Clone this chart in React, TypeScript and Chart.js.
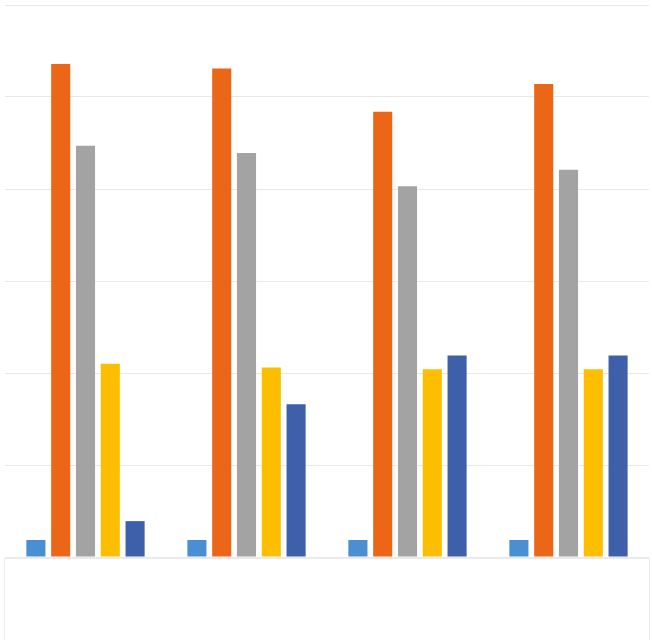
import { useRef, useEffect } from "react";
import { Chart, registerables } from "chart.js";

Chart.register(...registerables);

// Four groups, five series each (no labels are shown in the picture)
const categories = ["Group 1", "Group 2", "Group 3", "Group 4"];
const seriesNames = ["Series 1", "Series 2", "Series 3", "Series 4", "Series 5"];
const series1 = [1.85, 1.85, 1.85, 1.85];
const series2 = [53.6, 53.1, 48.4, 51.4];
const series3 = [44.7, 43.9, 40.3, 42.1];
const series4 = [21.0, 20.6, 20.4, 20.4];
const series5 = [3.9, 16.6, 21.9, 21.9];
const yTicks = [0, 10, 20, 30, 40, 50, 60];

const colors = ["#4a8fd2", "#eb6717", "#a3a3a3", "#fdbe00", "#3e5faa"];

const App = () => {
  const chartRef = useRef<HTMLCanvasElement | null>(null);
  const chartInstance = useRef<Chart | null>(null);

  useEffect(() => {
    if (!chartRef.current) return;
    const ctx = chartRef.current.getContext("2d");
    if (!ctx) return;

    const values = [series1, series2, series3, series4, series5];

    chartInstance.current = new Chart(ctx, {
      type: "bar",
      data: {
        labels: categories,
        datasets: values.map((data, i) => ({
          label: seriesNames[i],
          data,
          backgroundColor: colors[i],
          borderWidth: 0,
          categoryPercentage: 0.77,
          barPercentage: 0.77,
        })),
      },
      options: {
        responsive: false,
        animation: false,
        layout: {
          padding: { left: 5, top: 5, right: 3, bottom: 83 },
        },
        plugins: {
          legend: { display: false },
          tooltip: { enabled: false },
        },
        scales: {
          x: {
            display: false,
          },
          y: {
            min: yTicks[0],
            max: yTicks[yTicks.length - 1],
            ticks: { display: false, stepSize: 10 },
            border: { display: false },
            grid: { color: "#e8e8e8", drawTicks: false, lineWidth: 1 },
          },
        },
      },
    });

    return () => {
      if (chartInstance.current) {
        chartInstance.current.destroy();
        chartInstance.current = null;
      }
    };
  }, []);

  return (
    <div
      style={{
        position: "fixed",
        left: 0,
        top: 0,
        width: 652,
        height: 640,
        background: "#fff",
      }}
    >
      <canvas ref={chartRef} width={652} height={640} />
      <div
        style={{
          position: "absolute",
          left: 4,
          top: 558,
          width: 644,
          height: 100,
          border: "1px solid #ececec",
          pointerEvents: "none",
        }}
      />
    </div>
  );
};

export default App;
